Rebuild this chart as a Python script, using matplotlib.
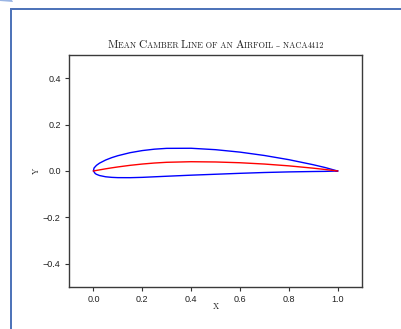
import numpy as np
import matplotlib.pyplot as plt
from matplotlib.patches import Rectangle, Polygon

# NACA 4412 surface and mean camber line (tabulated)
x_upper = [1.0, 0.95, 0.9, 0.8, 0.7, 0.6, 0.5, 0.4, 0.3, 0.25, 0.2, 0.15,
           0.1, 0.075, 0.05, 0.025, 0.0125, 0.0026, 0.0]
y_upper = [0.0, 0.0147, 0.0271, 0.0489, 0.0669, 0.0814, 0.0919, 0.0980,
           0.0976, 0.0941, 0.0880, 0.0789, 0.0659, 0.0576, 0.0473, 0.0339,
           0.0244, 0.0130, 0.0]
x_lower = [0.0, 0.0074, 0.0125, 0.025, 0.05, 0.075, 0.1, 0.15, 0.2, 0.25,
           0.3, 0.4, 0.5, 0.6, 0.7, 0.8, 0.9, 0.95, 1.0]
y_lower = [0.0, -0.0110, -0.0143, -0.0195, -0.0249, -0.0274, -0.0286,
           -0.0288, -0.0274, -0.0250, -0.0226, -0.0180, -0.0140, -0.0100,
           -0.0065, -0.0039, -0.0022, -0.0016, 0.0]
x_camber = [0.0, 0.0125, 0.025, 0.05, 0.075, 0.1, 0.15, 0.2, 0.25, 0.3,
            0.4, 0.5, 0.6, 0.7, 0.8, 0.9, 0.95, 1.0]
y_camber = [0.0, 0.0025, 0.0048, 0.0094, 0.0136, 0.0175, 0.0244, 0.0300,
            0.0344, 0.0375, 0.0400, 0.0389, 0.0356, 0.0300, 0.0222, 0.0122,
            0.0064, 0.0]

x_ticks = [0.0, 0.2, 0.4, 0.6, 0.8, 1.0]
y_ticks = [-0.4, -0.2, 0.0, 0.2, 0.4]

W, H = 401, 329
fig = plt.figure(figsize=(W / 100, H / 100), dpi=100)
ax = fig.add_axes([69 / W, 1 - 287 / H, (362 - 69) / W, (287 - 55) / H])

ax.plot(x_upper + x_lower, y_upper + y_lower, color='blue', lw=1.0)
ax.plot(x_camber, y_camber, color='red', lw=1.0)

ax.set_xlim(-0.1, 1.1)
ax.set_ylim(-0.5, 0.5)
ax.set_xticks(x_ticks)
ax.set_yticks(y_ticks)
ax.set_xticklabels([f'{v:.1f}' for v in x_ticks])
ax.set_yticklabels([f'{v:.1f}'.replace('-', '\u2212') for v in y_ticks])
ax.tick_params(length=3, width=0.8, color='#333333', labelsize=6.5, pad=3,
               labelcolor='#222222')
for lab in ax.get_xticklabels() + ax.get_yticklabels():
    lab.set_family('Liberation Sans')
for sp in ax.spines.values():
    sp.set_color('#3a3a3a')
    sp.set_linewidth(1.0)

serif = ['cmr10', 'DejaVu Serif']
big, small = 8.2, 6.0

# small caps title, built from pieces
chunks = [('M', big), ('EAN ', small), ('C', big), ('AMBER ', small),
          ('L', big), ('INE OF AN ', small), ('A', big),
          ('IRFOIL \u2013 NACA', small), ('4412', small)]
renderer = fig.canvas.get_renderer()
texts = []
x0 = 0
for s, size in chunks:
    t = fig.text(0, 1 - 48 / H, s, fontsize=size, family=serif,
                 va='baseline', ha='left', color='#222222')
    w = t.get_window_extent(renderer).width
    texts.append((t, x0))
    x0 += w
start = 215.5 - x0 / 2
for t, off in texts:
    t.set_x((start + off) / W)

fig.text(215.5 / W, 1 - 309 / H, 'X', fontsize=small, family=serif,
         ha='center', va='baseline', color='#222222')
fig.text(37 / W, 1 - 171 / H, 'Y', fontsize=small, family=serif,
         ha='center', va='center', rotation=90, color='#222222')

# screenshot frame
frame = '#4f74b9'
fig.add_artist(Rectangle((10 / W, 0), 2 / W, 1 - 8 / H,
                         transform=fig.transFigure, color=frame, lw=0))
fig.add_artist(Rectangle((10 / W, 1 - 9.5 / H), 1 - 10 / W, 2 / H,
                         transform=fig.transFigure, color=frame, lw=0))
fig.add_artist(Polygon([(0, 1), (12 / W, 1), (13 / W, 1 - 2 / H), (0, 1 - 1 / H)],
                       closed=True, transform=fig.transFigure,
                       color='#9ab5e4', lw=0))

fig.savefig('out.png', dpi=100)
